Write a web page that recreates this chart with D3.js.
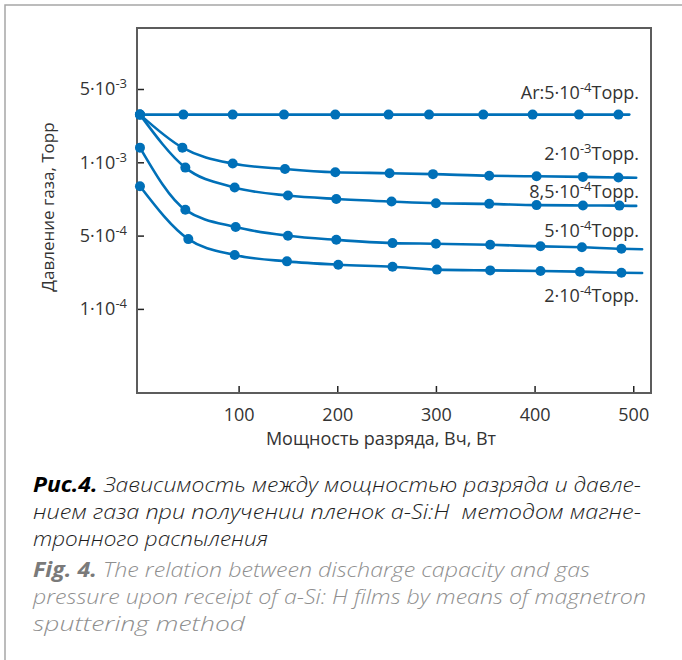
<!DOCTYPE html>
<html>
<head>
<meta charset="utf-8">
<script src="https://cdn.jsdelivr.net/npm/d3@7"></script>
<style>
  body { margin: 0; background: #fff; }
  svg { display: block; }
</style>
</head>
<body>
<svg id="chart" width="682" height="660"></svg>
<script>
// ---- Data: discharge power (W) and gas pressure (Torr) at each measured point ----
const powerAr      = [0, 44, 94, 146, 198, 252, 293, 348, 398, 445, 485];
const pressureAr   = [2.85e-3, 2.85e-3, 2.85e-3, 2.85e-3, 2.85e-3, 2.85e-3, 2.85e-3, 2.85e-3, 2.85e-3, 2.85e-3, 2.85e-3];

const power2e3     = [0, 43, 94, 147, 198, 253, 297, 354, 402, 449, 485];
const pressure2e3  = [2.85e-3, 1.38e-3, 0.988e-3, 0.939e-3, 0.910e-3, 0.902e-3, 0.894e-3, 0.880e-3, 0.876e-3, 0.871e-3, 0.866e-3];

const power85e4    = [0, 46, 96, 150, 199, 255, 300, 354, 402, 449, 486];
const pressure85e4 = [2.85e-3, 0.951e-3, 0.788e-3, 0.730e-3, 0.707e-3, 0.690e-3, 0.679e-3, 0.675e-3, 0.667e-3, 0.665e-3, 0.664e-3];

const power5e4     = [0, 46, 97, 150, 199, 256, 300, 355, 406, 448, 488];
const pressure5e4  = [1.38e-3, 0.638e-3, 0.542e-3, 0.499e-3, 0.456e-3, 0.424e-3, 0.418e-3, 0.409e-3, 0.395e-3, 0.387e-3, 0.374e-3];

const power2e4     = [0, 49, 96, 149, 201, 256, 301, 355, 406, 446, 488];
const pressure2e4  = [0.797e-3, 0.463e-3, 0.327e-3, 0.284e-3, 0.264e-3, 0.2525e-3, 0.237e-3, 0.233e-3, 0.230e-3, 0.2265e-3, 0.2215e-3];

// Each curve is carried on a little past its last measured point
const tailPower    = [496, 503, 503, 509, 509];
const tailPressure = [2.85e-3, 0.864e-3, 0.662e-3, 0.371e-3, 0.220e-3];

// Curve annotations: mantissa part, exponent, unit
const labelBase = ["Ar:5·10", "2·10", "8,5·10", "5·10", "2·10"];
const labelExp  = ["-4", "-3", "-4", "-4", "-4"];
const labelUnit = "Торр.";

// Axis ticks
const xTickValues   = [100, 200, 300, 400, 500];
const yTickValues   = [5e-3, 1e-3, 5e-4, 1e-4];
const yTickMantissa = ["5", "1", "5", "1"];
const yTickExp      = ["-3", "-3", "-4", "-4"];

const xTitle = "Мощность разряда, Вч, Вт";
const yTitle = "Давление газа, Торр";

const captionRu = [
  [["Рис.4.", true], [" Зависимость между мощностью разряда и давле-", false]],
  [["нием газа при получении пленок a-Si:H\u00a0 методом магне-", false]],
  [["тронного распыления", false]]
];
const captionEn = [
  [["Fig. 4.", true], [" The relation between discharge capacity and gas", false]],
  [["pressure upon receipt of a-Si: H films by means of magnetron", false]],
  [["sputtering method", false]]
];

// ---- Layout ----
const plot = { left: 137, top: 28, right: 651, bottom: 393 };
const yTickTop = 89, yTickStep = 73.3;
const blue = "#0070b8";
const textColor = "#333";
const font = "'Open Sans', 'DejaVu Sans', sans-serif";

const svg = d3.select("#chart");

// Outer frame of the figure panel
svg.append("rect")
  .attr("x", 5).attr("y", 5).attr("width", 720).attr("height", 720)
  .attr("fill", "none").attr("stroke", "#a6a6a6").attr("stroke-width", 1.5);

const x = d3.scaleLinear().domain([-3, 518]).range([plot.left, plot.right]);
// Pressure axis: tick levels are evenly spaced, log-interpolated between them
const y = d3.scaleLog()
  .domain([1e-4, 5e-4, 1e-3, 5e-3])
  .range([yTickTop + 3 * yTickStep, yTickTop + 2 * yTickStep, yTickTop + yTickStep, yTickTop]);

// Axes with inward ticks
const xAxis = svg.append("g")
  .attr("transform", `translate(0,${plot.bottom})`)
  .call(d3.axisBottom(x).tickValues(xTickValues).tickSize(-7).tickPadding(15).tickFormat(d3.format("d")));
xAxis.select(".domain").remove();
xAxis.selectAll("line").attr("stroke", "#222").attr("stroke-width", 1.5);
xAxis.selectAll("text").attr("font-family", font).attr("font-size", 18).attr("fill", textColor);

const yAxis = svg.append("g")
  .attr("transform", `translate(${plot.left},0)`)
  .call(d3.axisLeft(y).tickValues(yTickValues).tickSize(-7).tickPadding(10));
yAxis.select(".domain").remove();
yAxis.selectAll("line").attr("stroke", "#222").attr("stroke-width", 1.5);
yAxis.selectAll("text")
  .attr("font-family", font).attr("font-size", 18).attr("fill", textColor)
  .each(function (d, i) {
    const t = d3.select(this).text(null);
    t.append("tspan").text(yTickMantissa[i] + "·10");
    t.append("tspan").attr("font-size", 13).attr("dy", -7).text(yTickExp[i]);
  });

// Plot frame
svg.append("rect")
  .attr("x", plot.left).attr("y", plot.top)
  .attr("width", plot.right - plot.left).attr("height", plot.bottom - plot.top)
  .attr("fill", "none").attr("stroke", "#5c5c5c").attr("stroke-width", 2);

// Axis titles
svg.append("text")
  .attr("x", 381).attr("y", 445).attr("text-anchor", "middle")
  .attr("font-family", font).attr("font-size", 18).attr("fill", textColor)
  .text(xTitle);
svg.append("text")
  .attr("transform", "translate(54,207) rotate(-90)").attr("text-anchor", "middle")
  .attr("font-family", font).attr("font-size", 17).attr("fill", textColor)
  .text(yTitle);

// Curves and markers
const series = [
  [powerAr, pressureAr],
  [power2e3, pressure2e3],
  [power85e4, pressure85e4],
  [power5e4, pressure5e4],
  [power2e4, pressure2e4]
];
const labelDy = [-16, -18, -8, -12, 29];

const line = d3.line().x(d => x(d[0])).y(d => y(d[1])).curve(d3.curveMonotoneX);

series.forEach(([pw, pr], i) => {
  const pts = pw.map((p, j) => [p, pr[j]]);
  const linePts = pts.concat([[tailPower[i], tailPressure[i]]]);
  svg.append("path")
    .attr("d", line(linePts))
    .attr("fill", "none").attr("stroke", blue).attr("stroke-width", 2.6)
    .attr("stroke-linecap", "round");
  svg.append("g").selectAll("circle").data(pts).join("circle")
    .attr("cx", d => x(d[0])).attr("cy", d => y(d[1])).attr("r", 5)
    .attr("fill", blue);

  const lbl = svg.append("text")
    .attr("x", 639).attr("y", y(tailPressure[i]) + labelDy[i])
    .attr("text-anchor", "end")
    .attr("font-family", font).attr("font-size", 18).attr("fill", textColor);
  lbl.append("tspan").text(labelBase[i]);
  lbl.append("tspan").attr("font-size", 13).attr("dy", -7).text(labelExp[i]);
  lbl.append("tspan").attr("dy", 7).text(labelUnit);
});

// Caption
function captionLine(parts, yPos, color, boldColor, width) {
  const t = svg.append("text")
    .attr("x", 33).attr("y", yPos)
    .attr("font-family", font).attr("font-size", 21).attr("font-style", "italic")
    .attr("font-weight", 300)
    .attr("fill", color)
    .attr("textLength", width).attr("lengthAdjust", "spacingAndGlyphs");
  parts.forEach(([s, bold]) => {
    const ts = t.append("tspan").attr("fill", bold ? boldColor : color).text(s);
    if (bold) ts.attr("font-weight", 700);
  });
}
const ruWidths = [608, 608, 235];
const enWidths = [557, 613, 212];
const ruY = [492, 519, 546];
const enY = [577, 604, 631];
captionRu.forEach((p, i) => captionLine(p, ruY[i], "#1e1e1e", "#000", ruWidths[i]));
captionEn.forEach((p, i) => captionLine(p, enY[i], "#8f8f8f", "#7a7a7a", enWidths[i]));
</script>
</body>
</html>
